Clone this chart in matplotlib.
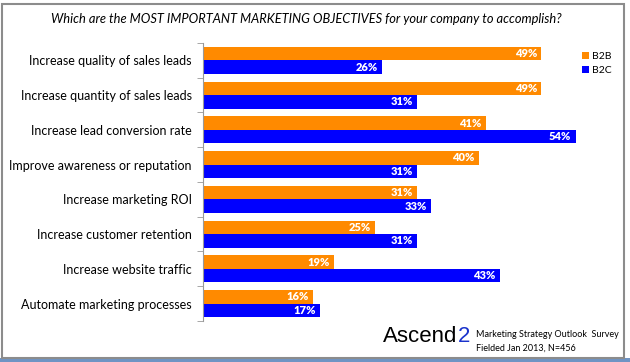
import matplotlib.pyplot as plt
from matplotlib.patches import Rectangle
import numpy as np

plt.rcParams['font.family'] = ['Lato', 'DejaVu Sans']

# Survey data (percent of respondents)
objectives = [
    'Increase quality of sales leads',
    'Increase quantity of sales leads',
    'Increase lead conversion rate',
    'Improve awareness or reputation',
    'Increase marketing ROI',
    'Increase customer retention',
    'Increase website traffic',
    'Automate marketing processes',
]
b2b = [49, 49, 41, 40, 31, 25, 19, 16]
b2c = [26, 31, 54, 31, 33, 31, 43, 17]

ORANGE = '#FF8A00'
BLUE = '#0000FF'

fig = plt.figure(figsize=(6.3, 3.62), dpi=100)
fig.patch.set_facecolor('white')

# screenshot frame and desktop strip at the bottom
fig.patches.append(Rectangle((0, 0), 1, 0.012, transform=fig.transFigure,
                             facecolor='#6f94c4', edgecolor='none', zorder=-2))
fig.patches.append(Rectangle((0.003, 0.012), 0.988, 0.977, transform=fig.transFigure,
                             facecolor='white', edgecolor='#8c8c8c', linewidth=1.5,
                             zorder=-1))

ax = fig.add_axes([0.3222, 0.1133, 0.6024, 0.768])
y = np.arange(len(objectives))
h = 0.39
bars_b2b = ax.barh(y - h / 2, b2b, height=h, color=ORANGE, label='B2B')
bars_b2c = ax.barh(y + h / 2, b2c, height=h, color=BLUE, label='B2C')

for bars, vals in ((bars_b2b, b2b), (bars_b2c, b2c)):
    for bar, v in zip(bars, vals):
        ax.text(v - 0.6, bar.get_y() + bar.get_height() / 2, f'{v}%',
                ha='right', va='center', color='white', fontsize=8,
                fontweight='heavy')

ax.set_xlim(0, 55)
ax.set_ylim(len(objectives) - 0.5, -0.5)
ax.set_xticks([])
ax.set_yticks(y)
ax.set_yticklabels(objectives, fontsize=9.0)
ax.set_yticks(np.arange(len(objectives) + 1) - 0.5, minor=True)
ax.tick_params(axis='y', which='major', length=0, pad=8)
ax.tick_params(axis='y', which='minor', length=4, color='#999999')
for s in ('top', 'right', 'bottom'):
    ax.spines[s].set_visible(False)
ax.spines['left'].set_color('#999999')
ax.patch.set_alpha(0)

ax.legend(loc='upper left', bbox_to_anchor=(0.975, 1.0), frameon=False,
          fontsize=7.5, handlelength=0.6, handleheight=0.6, handletextpad=0.3,
          labelspacing=0.45)

fig.text(0.486, 0.948,
         'Which are the MOST IMPORTANT MARKETING OBJECTIVES for your company to accomplish?',
         ha='center', va='center', fontsize=9.3, style='italic')

# footer branding
logo = fig.text(0.608, 0.055, 'Ascend', fontsize=16, ha='left', va='baseline',
                color='black', family=['Liberation Sans', 'DejaVu Sans'])
fig.canvas.draw()
bb = logo.get_window_extent().transformed(fig.transFigure.inverted())
fig.text(bb.x1, 0.055, '2', fontsize=16, ha='left', va='baseline', color='#1a33cc',
         family=['Liberation Sans', 'DejaVu Sans'])
fig.text(0.755, 0.068, 'Marketing Strategy Outlook  Survey', fontsize=6.5,
         ha='left', va='baseline')
fig.text(0.755, 0.03, 'Fielded Jan 2013, N=456', fontsize=6.5,
         ha='left', va='baseline')

fig.savefig('out.png', dpi=100)
